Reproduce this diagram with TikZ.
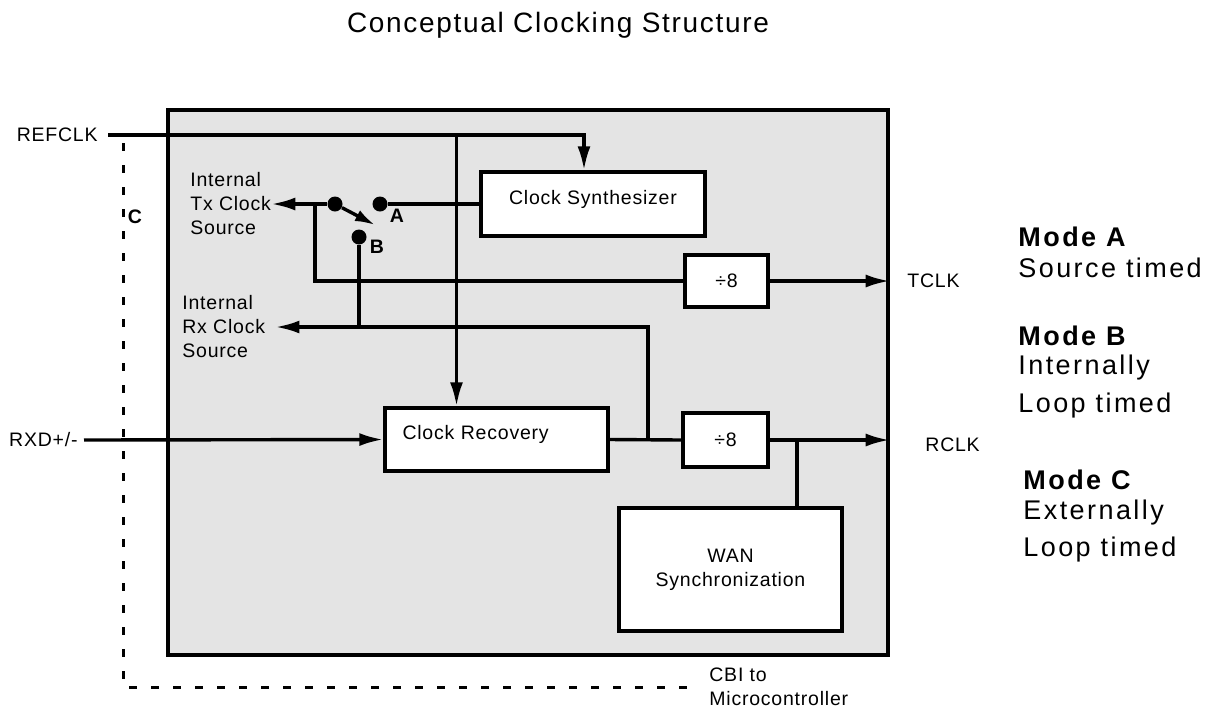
\documentclass[tikz,border=0pt]{standalone}
\usepackage{fontspec}
\setmainfont{Liberation Sans}
\newfontfamily\smallfam[LetterSpace=4]{Liberation Sans}
\newfontfamily\modefam[LetterSpace=9]{Liberation Sans}
\newfontfamily\titlefam[LetterSpace=6]{Liberation Sans}
\usetikzlibrary{arrows.meta}
\definecolor{panel}{gray}{0.895}

\begin{document}
\begin{tikzpicture}[x=0.5pt, y=-0.5pt,
    wire/.style={line width=1.7pt},
    arr/.style={wire, -{Latex[length=12pt,width=6.5pt]}},
    blk/.style={draw, fill=white, line width=1.7pt, inner sep=0pt, font=\smallfam\fontsize{9.75}{12}\selectfont},
    lbl/.style={inner sep=0pt, font=\smallfam\fontsize{9.75}{12}\selectfont},
    swlbl/.style={inner sep=0pt, font=\smallfam\bfseries\fontsize{9.75}{12}\selectfont},
    dot/.style={circle, fill=black, inner sep=0pt, minimum size=7.5pt},
    modehead/.style={anchor=base west, inner sep=0pt, font=\modefam\bfseries\fontsize{13.5}{16}\selectfont},
    modetxt/.style={anchor=base west, inner sep=0pt, font=\modefam\fontsize{13.5}{16}\selectfont}]

    \useasboundingbox (0,0) rectangle (1215,708);

    \node[anchor=base, font=\titlefam\fontsize{14}{17}\selectfont] (title) at (558,32) {Conceptual Clocking Structure};

    \node[draw, fill=panel, line width=1.7pt, inner sep=0pt, minimum width=360pt, minimum height=272.5pt] (frame) at (528,382.5) {};

    \node[blk, minimum width=112pt, minimum height=32pt, text height=7pt, text depth=7pt] (synth) at (593,204) {Clock Synthesizer};
    \node[blk, minimum width=41.5pt, minimum height=26pt] (divt) at (726.5,281) {÷8};
    \node[blk, minimum width=111.5pt, minimum height=31.5pt, text height=7pt, text depth=7pt, text width=94pt, align=left] (recov) at (496.5,439.5) {Clock Recovery};
    \node[blk, minimum width=42.5pt, minimum height=27pt] (divr) at (725.5,440) {÷8};
    \node[blk, minimum width=111.5pt, minimum height=61.5pt, align=center] (wan) at (730.5,569.5) {WAN\\Synchronization};

    \node[lbl, anchor=east, inner xsep=5pt] (refclk) at (108,135) {REFCLK};
    \node[lbl, anchor=east, inner xsep=3pt] (rxd) at (84,440) {RXD+/-};
    \node[lbl, anchor=west] (tclk) at (907,281) {TCLK};
    \node[lbl, anchor=west] (rclk) at (925,445) {RCLK};
    \node[lbl, anchor=west, align=left] (txsrc) at (190,204) {Internal\\Tx Clock\\Source};
    \node[lbl, anchor=west, align=left] (rxsrc) at (182,327) {Internal\\Rx Clock\\Source};
    \node[lbl, anchor=west, align=left, inner xsep=6pt] (cbi) at (697,687) {CBI to\\Microcontroller};

    \node[dot] (swl) at (335,204) {};
    \node[dot] (swa) at (380,204) {};
    \node[dot] (swb) at (359,237) {};
    \coordinate (swtip) at (375,225);
    \node[swlbl] (labA) at (397,216) {A};
    \node[swlbl] (labB) at (377,247) {B};
    \node[swlbl] (labC) at (135,217) {C};

    \coordinate (rtap) at (456.5,135);
    \coordinate (txtap) at (315,204);
    \coordinate (rxtap) at (648,440);
    \coordinate (wtap) at (797,440);
    \coordinate (ctop) at (123,143);

    \draw[arr] (refclk.east) -| ([xshift=-4.5pt]synth.north);
    \draw[arr] (rtap) -- (rtap |- recov.north);
    \draw[wire] (synth.west) -- (swa);
    \draw[arr] (swl) -- (txsrc.east);
    \draw[wire, -{Latex[length=10pt,width=6pt]}] (swl) -- (swtip);
    \draw[wire] (txtap) |- (divt.west);
    \draw[arr] (divt.east) -- (divt.east -| frame.east);
    \draw[arr] (rxtap) |- ([xshift=5pt]rxsrc.east);
    \draw[wire] (swb) -- (swb |- rxsrc.east);
    \draw[arr] (rxd.east) -- (recov.west);
    \draw[wire] (recov.east) -- (divr.west);
    \draw[arr] (divr.east) -- (divr.east -| frame.east);
    \draw[wire] (wtap) -- (wtap |- wan.north);
    \draw[wire, line width=1.5pt, dash pattern=on 4pt off 7pt] (ctop) |- (cbi.west);

    \node[modehead] (modeA) at (1018,246) {Mode A};
    \node[modetxt] (modeAtxt) at (1018,277) {Source timed};
    \node[modehead] (modeB) at (1018,345) {Mode B};
    \node[modetxt] (modeBtxt) at (1018,374) {Internally};
    \node[modetxt] (modeBtxt2) at (1018,412) {Loop timed};
    \node[modehead] (modeC) at (1023,489) {Mode C};
    \node[modetxt] (modeCtxt) at (1023,519) {Externally};
    \node[modetxt] (modeCtxt2) at (1023,556) {Loop timed};

\end{tikzpicture}
\end{document}
